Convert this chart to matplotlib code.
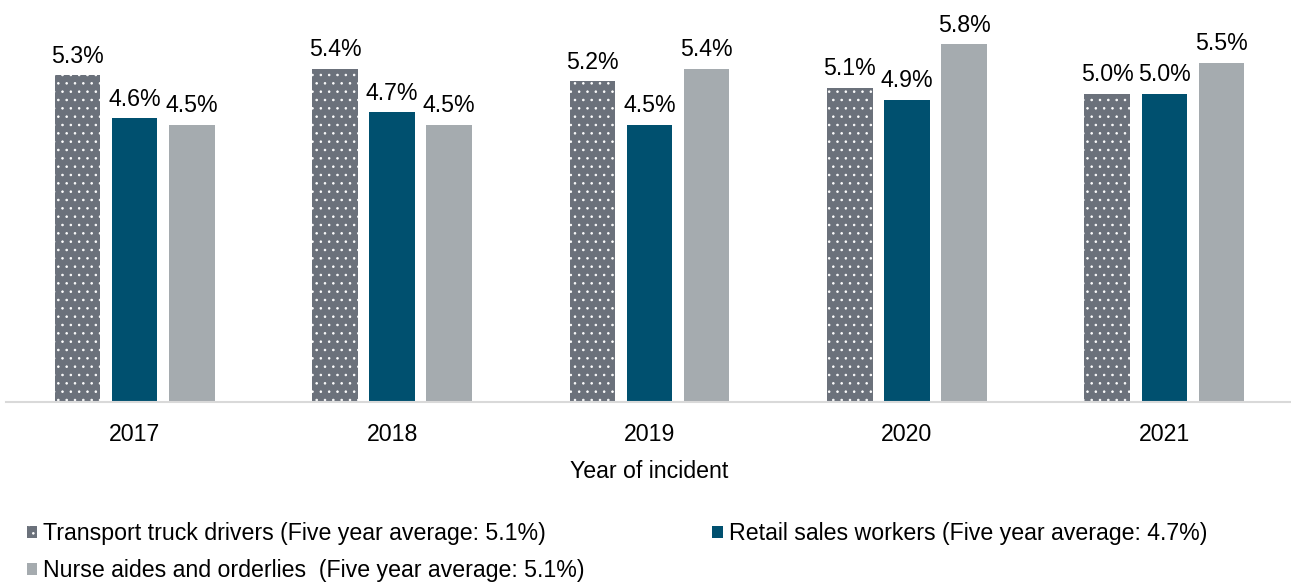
import matplotlib
matplotlib.use("Agg")
import matplotlib.pyplot as plt
import numpy as np

plt.rcParams['font.family'] = ['Liberation Sans', 'DejaVu Sans']
plt.rcParams['hatch.linewidth'] = 0.6

years = ["2017", "2018", "2019", "2020", "2021"]
truck = [5.3, 5.4, 5.2, 5.1, 5.0]
retail = [4.6, 4.7, 4.5, 4.9, 5.0]
nurse = [4.5, 4.5, 5.4, 5.8, 5.5]

series_names = [
    "Transport truck drivers (Five year average: 5.1%)",
    "Retail sales workers (Five year average: 4.7%)",
    "Nurse aides and orderlies  (Five year average: 5.1%)",
]

W, H = 1291, 586
FS = 16.7
fig = plt.figure(figsize=(W / 100, H / 100), dpi=100)
ax = fig.add_axes([6 / W, (H - 402) / H, 1287 / W, 402 / H])

x = np.arange(len(years))
width = 0.177
pitch = 0.222

b1 = ax.bar(x - pitch, truck, width, color="#6b717b", edgecolor="white",
            hatch="..", linewidth=0)
b2 = ax.bar(x, retail, width, color="#00506f", linewidth=0)
b3 = ax.bar(x + pitch, nurse, width, color="#a5abaf", linewidth=0)

for bars, vals in ((b1, truck), (b2, retail), (b3, nurse)):
    for rect, v in zip(bars, vals):
        ax.annotate(f"{v:.1f}%", (rect.get_x() + rect.get_width() / 2, v),
                    xytext=(0, 5.5), textcoords="offset points",
                    ha="center", va="bottom", fontsize=FS)

ax.set_xlim(-0.5, len(years) - 0.5)
ax.set_ylim(0, 6.52)
ax.set_xticks(x)
ax.set_xticklabels(years, fontsize=FS)
ax.tick_params(axis="x", length=0, pad=15)
ax.set_yticks([])
for s in ("top", "right", "left"):
    ax.spines[s].set_visible(False)
ax.spines["bottom"].set_color("#d9d9d9")
ax.spines["bottom"].set_linewidth(1.5)
ax.set_xlabel("Year of incident", fontsize=FS, labelpad=10)

handles = [b1, b3, b2]
labels = [series_names[0], series_names[2], series_names[1]]
fig.legend(handles, labels, ncol=2, loc="upper left",
           bbox_to_anchor=(27 / W, 1 - 522 / H), frameon=False,
           fontsize=FS, handlelength=0.45, handleheight=0.45,
           handletextpad=0.25, columnspacing=5.5, labelspacing=0.62,
           borderpad=0, borderaxespad=0)

fig.savefig("out.png", dpi=100)
